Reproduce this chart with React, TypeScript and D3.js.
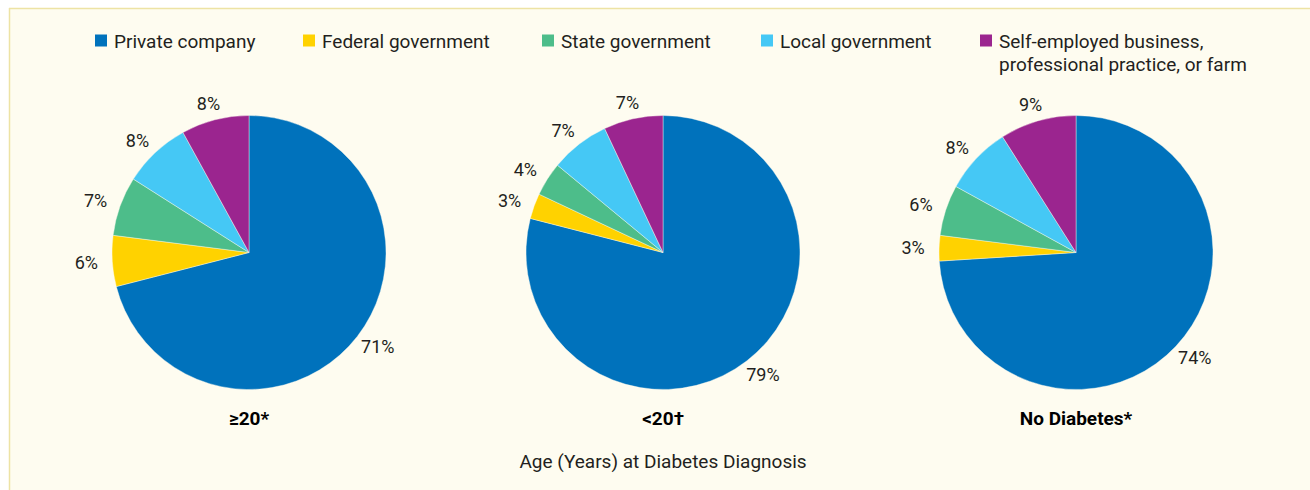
import React from "react";
import * as d3 from "d3";

const categories = [
  "Private company",
  "Federal government",
  "State government",
  "Local government",
  "Self-employed business, professional practice, or farm",
];
const legendLines = [
  ["Private company"],
  ["Federal government"],
  ["State government"],
  ["Local government"],
  ["Self-employed business,", "professional practice, or farm"],
];
const colors = ["#0072BC", "#FFD200", "#4DBD8A", "#45C8F5", "#9B258F"];
const groups = ["≥20*", "<20†", "No Diabetes*"];
const valuesGe20 = [71, 6, 7, 8, 8];
const valuesLt20 = [79, 3, 4, 7, 7];
const valuesNoDiab = [74, 3, 6, 8, 9];
const seriesValues = [valuesGe20, valuesLt20, valuesNoDiab];
const axisTitle = "Age (Years) at Diabetes Diagnosis";

const W = 1310;
const H = 490;
const R = 137;
const CY = 252.5;
const centersX = [249, 663, 1076];
const legendX = [95, 303, 542, 761, 980];
const FONT = "Roboto, 'Noto Sans', sans-serif";

export default function App() {
  const pie = d3
    .pie<number>()
    .sort(null)
    .value((d) => d)
    .startAngle(0)
    .endAngle(2 * Math.PI);
  const arc = d3.arc<d3.PieArcDatum<number>>().innerRadius(0).outerRadius(R);

  return (
    <svg
      width={W}
      height={H}
      style={{ position: "absolute", left: 0, top: 0, display: "block" }}
      xmlns="http://www.w3.org/2000/svg"
    >
      <rect x={0} y={0} width={W} height={H} fill="#ffffff" />
      <rect x={9} y={8} width={W - 9} height={H - 8} fill="#FEFCF0" />
      <line x1={9} y1={8.5} x2={W} y2={8.5} stroke="#EDE3A4" strokeWidth={1.5} />
      <line x1={9.5} y1={8} x2={9.5} y2={H} stroke="#EDE3A4" strokeWidth={1.5} />

      {/* Legend */}
      {legendLines.map((lines, i) => (
        <g key={categories[i]}>
          <rect x={legendX[i]} y={34.5} width={12} height={12} fill={colors[i]} />
          <text
            x={legendX[i] + 19}
            y={47.5}
            fontFamily={FONT}
            fontSize={19}
            fill="#231F20"
          >
            {lines.map((ln, j) => (
              <tspan key={j} x={legendX[i] + 19} dy={j === 0 ? 0 : 23}>
                {ln}
              </tspan>
            ))}
          </text>
        </g>
      ))}

      {/* Pies */}
      {seriesValues.map((vals, gi) => {
        const arcs = pie(vals);
        const cx = centersX[gi];
        return (
          <g key={groups[gi]} transform={`translate(${cx},${CY})`}>
            {arcs.map((a, i) => (
              <path
                key={i}
                d={arc(a) || ""}
                fill={colors[i]}
                stroke="#FEFCF0"
                strokeWidth={0.4}
              />
            ))}
            {arcs.map((a, i) => {
              const mid = (a.startAngle + a.endAngle) / 2;
              const sx = Math.sin(mid);
              const sy = -Math.cos(mid);
              const rr = R + 11;
              const lx = sx * rr + sx * 15;
              const ly = sy * rr + sy * 6;
              return (
                <text
                  key={"l" + i}
                  x={lx}
                  y={ly}
                  textAnchor="middle"
                  dominantBaseline="central"
                  fontFamily={FONT}
                  fontSize={18}
                  fill="#231F20"
                >
                  {vals[i]}%
                </text>
              );
            })}
            <text
              x={0}
              y={425}
              transform={`translate(0,${-CY})`}
              textAnchor="middle"
              fontFamily={FONT}
              fontWeight="bold"
              fontSize={19}
              fill="#000000"
            >
              {groups[gi]}
            </text>
          </g>
        );
      })}

      <text
        x={663}
        y={468}
        textAnchor="middle"
        fontFamily={FONT}
        fontSize={19}
        fill="#231F20"
      >
        {axisTitle}
      </text>
    </svg>
  );
}
